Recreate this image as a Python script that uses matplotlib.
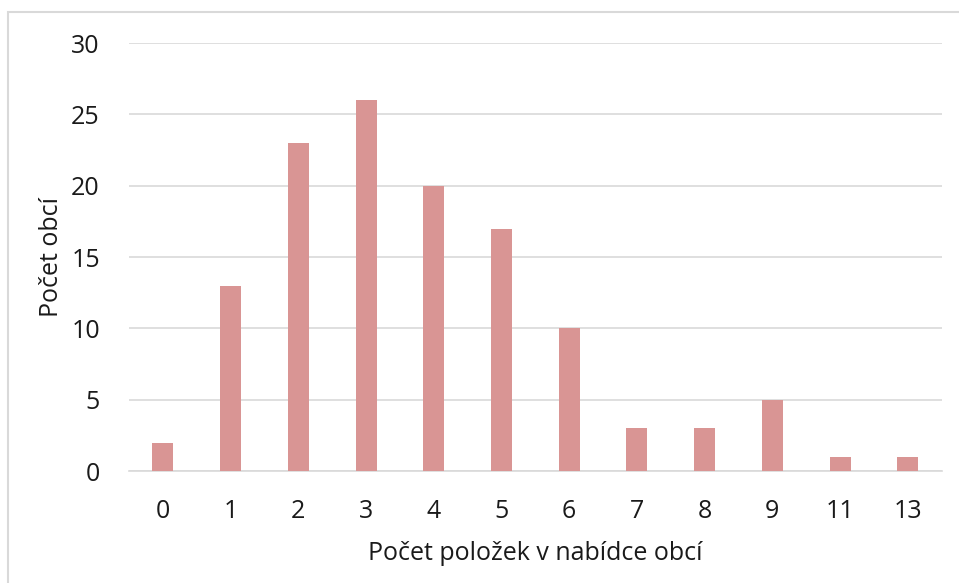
import matplotlib.pyplot as plt
from matplotlib.patches import Rectangle

plt.rcParams['font.family'] = ['Open Sans', 'DejaVu Sans']

# Data
categories = ['0', '1', '2', '3', '4', '5', '6', '7', '8', '9', '11', '13']
counts = [2, 13, 23, 26, 20, 17, 10, 3, 3, 5, 1, 1]

fig = plt.figure(figsize=(9.59, 5.83), dpi=100)
ax = fig.add_axes([0.1345, 0.192, 0.8475, 0.734])

x = range(len(categories))
ax.bar(x, counts, width=0.31, color='#d99594', zorder=3)

ax.set_xlim(-0.5, len(categories) - 0.5)
ax.set_ylim(0, 30)
ax.set_yticks(range(0, 31, 5))
ax.set_xticks(list(x))
ax.set_xticklabels(categories)

ax.grid(axis='y', color='#d9d9d9', linewidth=1.2, zorder=0)
for side in ['top', 'right', 'left']:
    ax.spines[side].set_visible(False)
ax.spines['bottom'].set_color('#d9d9d9')
ax.spines['bottom'].set_linewidth(1.2)
ax.tick_params(axis='both', length=0, labelsize=18, colors='#1a1a1a')
ax.tick_params(axis='x', pad=20)
ax.tick_params(axis='y', pad=21)

ax.set_xlabel('Počet položek v nabídce obcí', fontsize=18,
              color='#1a1a1a', labelpad=12)
ax.set_ylabel('Počet obcí', fontsize=18, color='#1a1a1a', labelpad=5)

# Outer chart border (right and bottom edges fall outside the image)
fig.patches.append(Rectangle((8 / 959, -10 / 583), 960 / 959, 581 / 583,
                             transform=fig.transFigure, fill=False,
                             edgecolor='#d9d9d9', linewidth=1.5,
                             clip_on=False))

fig.savefig('out.png', dpi=100)
